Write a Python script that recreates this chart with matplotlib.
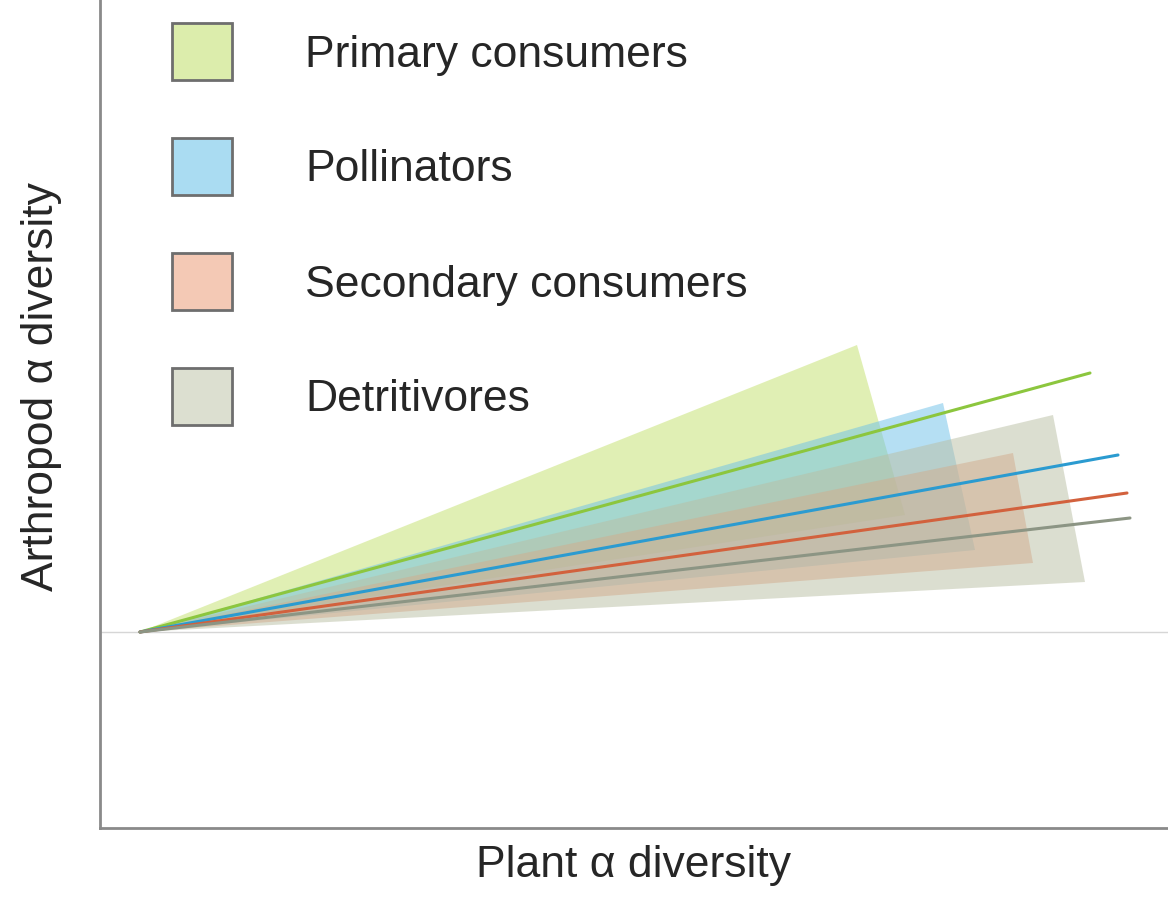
import numpy as np
import matplotlib
matplotlib.use('Agg')
import matplotlib.pyplot as plt
from matplotlib.patches import Polygon, Rectangle

plt.rcParams['font.family'] = ['Liberation Sans', 'DejaVu Sans']

# trophic groups and their response to plant diversity
groups = ['Primary consumers', 'Pollinators', 'Secondary consumers', 'Detritivores']
line_colors = ['#8cc63e', '#2b9bd0', '#d2613d', '#8c9584']
fill_colors = ['#c2e06a', '#6cc0e8', '#eb9a78', '#b9bea3']
legend_fills = ['#dcedac', '#aadcf2', '#f4c9b5', '#dcdfd0']

# end of each mean line (x, y), origin at (0, 0)
line_x = [9.50, 9.78, 9.87, 9.90]
line_y = [2.59, 1.77, 1.39, 1.14]
# upper and lower corners of each uncertainty wedge
upper_x = [7.17, 8.03, 8.73, 9.13]
upper_y = [2.87, 2.29, 1.79, 2.17]
lower_x = [7.65, 8.35, 8.93, 9.45]
lower_y = [1.17, 0.82, 0.69, 0.50]

fig = plt.figure(figsize=(11.68, 8.98), dpi=100)
ax = fig.add_axes([100/1168, 70/898, 1068/1168, 828/898])
ax.set_xlim(-0.4, 10.28)
ax.set_ylim(-1.96, 6.32)

# wedges
for i in range(len(groups)):
    pts = [(0, 0), (upper_x[i], upper_y[i]), (lower_x[i], lower_y[i])]
    ax.add_patch(Polygon(pts, closed=True, facecolor=fill_colors[i],
                         edgecolor='none', alpha=0.5, zorder=2))

ax.axhline(0, color='#d6d6d6', lw=1, zorder=1)

for i in range(len(groups)):
    ax.plot([0, line_x[i]], [0, line_y[i]], color=line_colors[i], lw=2.2,
            solid_capstyle='round', zorder=3)

# legend boxes
for i, name in enumerate(groups):
    top = 1 - (23 + 115 * i) / 828
    ax.add_patch(Rectangle((72/1068, top - 57/828), 60/1068, 57/828,
                           transform=ax.transAxes, facecolor=legend_fills[i],
                           edgecolor='#6e6e6e', lw=2, zorder=4))
    ax.text(205/1068, top - 32/828, name, transform=ax.transAxes,
            fontsize=32, color='#262626', va='center', ha='left')

for side in ['top', 'right']:
    ax.spines[side].set_visible(False)
for side in ['left', 'bottom']:
    ax.spines[side].set_color('#8a8a8a')
    ax.spines[side].set_linewidth(2)
ax.set_xticks([])
ax.set_yticks([])

ax.set_xlabel('Plant \u03b1 diversity', fontsize=32, color='#262626', labelpad=12)
ax.set_ylabel('Arthropod \u03b1 diversity', fontsize=32, color='#262626')
ax.yaxis.set_label_coords(-0.036, 0.533)

fig.savefig('out.png', dpi=100, facecolor='white')
